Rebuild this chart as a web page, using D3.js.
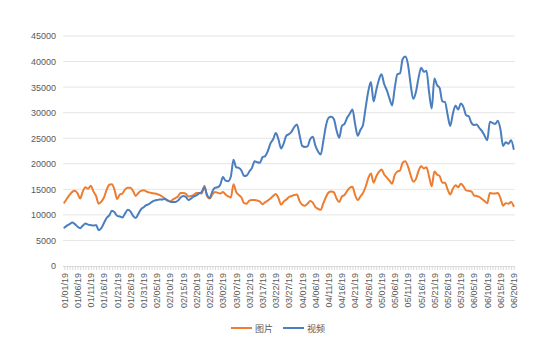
<!DOCTYPE html>
<html><head><meta charset="utf-8">
<script src="https://cdn.jsdelivr.net/npm/d3@7"></script>
<style>body{margin:0;background:#fff}svg{display:block}</style>
</head><body>
<svg id="c" width="559" height="356"></svg>
<script>
const startDate = "2019-01-01";
const dayCount = 171;
const seriesNames = ["图片", "视频"];
const imageValues = [12400,13200,13900,14500,14700,14200,13200,14600,15400,15100,15700,14600,13700,12200,12600,13400,14900,15900,16000,14900,
13100,14000,14200,15000,15300,15300,14700,13700,14300,14700,14800,14600,14400,14300,14200,14100,13900,13600,13200,12800,
12600,13000,13300,13600,14300,14300,14100,13600,13700,13900,14300,14300,14200,15700,13700,13200,14000,14500,14300,14200,
14500,14000,13600,13400,16000,14500,13900,13400,12300,12200,12800,12900,12900,12800,12600,12100,12500,12800,13200,13700,
14100,13300,12000,12600,13000,13500,13700,13900,14000,12700,12000,11800,12200,12700,12400,11500,11200,11000,12300,13500,
14400,14600,14400,13200,12500,13600,13900,14700,15300,15500,13900,12900,13600,14300,15500,17200,18100,16300,17500,18400,
18900,17900,17300,16700,16100,17800,18500,18700,20200,20500,19500,17800,16500,17000,18600,19500,19100,19300,17500,15600,
18500,17900,17600,16300,16300,15000,14000,15100,15800,15400,16100,15600,14800,14700,14600,13800,13700,13500,13100,12700,
12300,14300,14200,14200,14300,13300,11800,12300,12200,12500,11700];
const videoValues = [7500,7900,8200,8500,8200,7700,7400,7900,8300,8100,8000,7900,8000,7000,7400,8400,9400,9900,10800,10500,
9800,9700,9500,10300,11000,10700,9800,9400,10200,11100,11500,11900,12100,12500,12800,12900,13000,13000,13100,12900,
12600,12500,12500,12800,13400,13700,13500,12900,13200,13600,13800,14200,14500,15400,13900,13300,14600,15300,15400,15900,
17400,16700,16600,17500,20800,19300,19200,18700,17600,17700,18500,19200,20500,20300,20200,21300,21500,22500,24000,24800,
26000,24800,23000,24000,25500,25800,26300,27200,27700,25600,23500,23300,23400,24800,25300,23500,22400,21800,24500,27500,
29000,29200,28700,26500,25100,27400,27800,29000,29800,30600,27800,25500,26600,27600,31000,34200,36000,32200,34400,36400,
37500,35600,34400,32800,31400,34800,37500,37700,40500,41000,39500,35600,32700,34000,36800,38800,38000,38200,34000,30800,
36700,35400,34800,32200,32100,29600,27400,29800,31400,30600,31800,31100,29500,29300,28000,27600,27700,27000,26400,25500,
24600,28200,28000,27800,28400,26700,23500,24200,23900,24600,22900];
const yTicks = [0,5000,10000,15000,20000,25000,30000,35000,40000,45000];
const colors = ["#ED7D31", "#4A7EBF"];

const fmt = d3.timeFormat("%m/%d/%y");
const t0 = d3.timeParse("%Y-%m-%d")(startDate);
const labels = d3.range(dayCount).map(i => fmt(d3.timeDay.offset(t0, i)));

const svg = d3.select("#c");
const L = 63, R = 515, T = 36, B = 266;
const x = d3.scalePoint().domain(labels).range([L, R]).padding(0.5);
const y = d3.scaleLinear().domain([0, 45000]).range([B, T]);
const font = "'Liberation Sans', Arial, 'Noto Sans CJK SC', sans-serif";

// gridlines
svg.append("g").selectAll("line").data(yTicks.slice(1)).join("line")
  .attr("x1", L).attr("x2", R).attr("y1", d => y(d)).attr("y2", d => y(d))
  .attr("stroke", "#e6e6e6").attr("stroke-width", 1);

// y axis labels
const ya = svg.append("g").attr("transform", `translate(${L},0)`)
  .call(d3.axisLeft(y).tickValues(yTicks).tickSize(0).tickPadding(7).tickFormat(d3.format("d")));
ya.select(".domain").remove();
ya.selectAll("text").attr("font-family", font).attr("font-size", 9).attr("fill", "#595959");

// x axis
const xa = svg.append("g").attr("transform", `translate(0,${B})`)
  .call(d3.axisBottom(x).tickSize(4).tickValues(labels));
xa.select(".domain").attr("stroke", "#d9d9d9").attr("d", `M${L},0.5H${R}`);
xa.selectAll(".tick line").attr("stroke", "#d9d9d9");
xa.selectAll(".tick text").each(function(d, i){
  const el = d3.select(this);
  if (i % 5 !== 0) { el.remove(); return; }
  el.attr("font-family", font).attr("font-size", 9).attr("fill", "#595959")
    .attr("text-anchor", "end").attr("dy", "0.32em")
    .attr("transform", "translate(0,3) rotate(-90)").attr("x", -4).attr("y", 0);
});

// lines
const line = d3.line().x((d, i) => x(labels[i])).y(d => y(d)).curve(d3.curveMonotoneX);
[imageValues, videoValues].forEach((vals, k) => {
  svg.append("path").datum(vals).attr("d", line)
    .attr("fill", "none").attr("stroke", colors[k]).attr("stroke-width", 2)
    .attr("stroke-linejoin", "round").attr("stroke-linecap", "round");
});

// legend
const leg = svg.append("g");
const legX = [231, 283];
seriesNames.forEach((n, k) => {
  leg.append("line").attr("x1", legX[k]).attr("x2", legX[k] + 21).attr("y1", 328).attr("y2", 328)
    .attr("stroke", colors[k]).attr("stroke-width", 2);
  leg.append("text").attr("x", legX[k] + 24).attr("y", 331.5).text(n)
    .attr("font-family", "'Noto Sans CJK SC', sans-serif").attr("font-size", 9).attr("fill", "#595959");
});
</script>
</body></html>
